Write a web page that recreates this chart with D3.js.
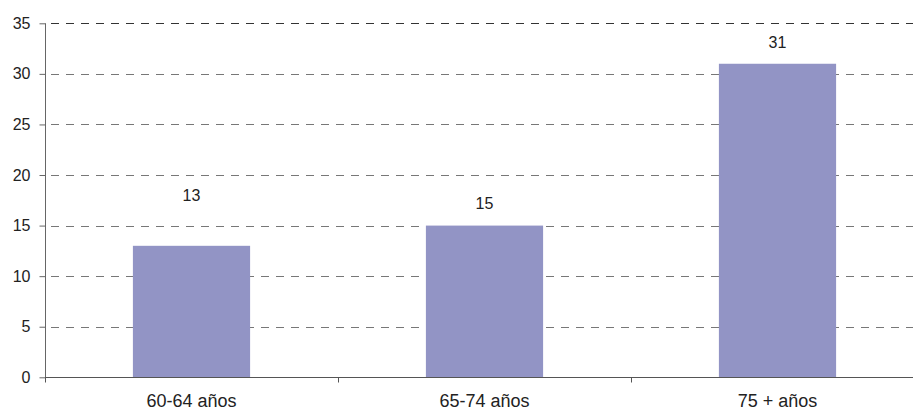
<!DOCTYPE html>
<html>
<head>
<meta charset="utf-8">
<script src="https://cdn.jsdelivr.net/npm/d3@7/dist/d3.min.js"></script>
<style>
  html, body { margin: 0; padding: 0; background: #fff; }
  svg text { font-family: "Liberation Sans", Arial, sans-serif; fill: #222; }
</style>
</head>
<body>
<svg id="chart" width="913" height="412"></svg>
<script>
const categories = ["60-64 años", "65-74 años", "75 + años"];
const values = [13, 15, 31];
const yTicks = [0, 5, 10, 15, 20, 25, 30, 35];
// value-label lift above bar top, in value units (first label sits higher in the original)
const labelLift = [4.4, 1.6, 1.6];

const W = 913, H = 412;
const margin = { left: 45, top: 23.3, bottom: 377.3 };
const svg = d3.select("#chart");

const x = d3.scaleBand()
  .domain(categories)
  .range([margin.left, margin.left + 293 * 3])
  .paddingInner(0.6)
  .paddingOuter(0.3);

const y = d3.scaleLinear().domain([0, 35]).range([margin.bottom, margin.top]);

// gridlines
svg.append("g").selectAll("line")
  .data(yTicks.filter(d => d > 0))
  .join("line")
  .attr("x1", margin.left).attr("x2", W)
  .attr("y1", d => Math.round(y(d)) + 0.5).attr("y2", d => Math.round(y(d)) + 0.5)
  .attr("stroke", d => d === 35 ? "#333" : "#777")
  .attr("stroke-width", 1)
  .attr("stroke-dasharray", "8,7")
  .attr("stroke-dashoffset", -6);

// bars
svg.append("g").selectAll("rect")
  .data(values)
  .join("rect")
  .attr("x", (d, i) => x(categories[i]))
  .attr("width", x.bandwidth())
  .attr("y", d => y(d))
  .attr("height", d => y(0) - y(d))
  .attr("fill", "#9294c5");

// value labels
svg.append("g").selectAll("text")
  .data(values)
  .join("text")
  .attr("x", (d, i) => x(categories[i]) + x.bandwidth() / 2)
  .attr("y", (d, i) => y(d + labelLift[i]))
  .attr("text-anchor", "middle")
  .attr("font-size", 16)
  .text(d => d);

// y axis
const yAxis = d3.axisLeft(y).tickValues(yTicks).tickSize(6).tickPadding(9);
const gy = svg.append("g")
  .attr("transform", `translate(${margin.left + 0.5},0)`)
  .call(yAxis);
gy.select(".domain").attr("stroke", "#666").attr("d", `M0,${y(35)}V${y(0)}`);
gy.selectAll(".tick line").attr("stroke", "#666");
gy.selectAll(".tick text").attr("font-size", 16).attr("fill", "#222")
  .attr("font-family", "Liberation Sans, Arial, sans-serif");

// x axis line
const xAxisY = Math.round(y(0)) + 0.5;
svg.append("line")
  .attr("x1", margin.left).attr("x2", W)
  .attr("y1", xAxisY).attr("y2", xAxisY)
  .attr("stroke", "#555");

// category boundary ticks
const boundaries = d3.range(categories.length + 1).map(i => margin.left + i * x.step());
svg.append("g").selectAll("line")
  .data(boundaries.filter(b => b <= W))
  .join("line")
  .attr("x1", d => Math.round(d) + 0.5).attr("x2", d => Math.round(d) + 0.5)
  .attr("y1", xAxisY).attr("y2", xAxisY + 5)
  .attr("stroke", "#555");

// category labels
svg.append("g").selectAll("text")
  .data(categories)
  .join("text")
  .attr("x", d => x(d) + x.bandwidth() / 2)
  .attr("y", 407)
  .attr("text-anchor", "middle")
  .attr("font-size", 18)
  .text(d => d);
</script>
</body>
</html>
